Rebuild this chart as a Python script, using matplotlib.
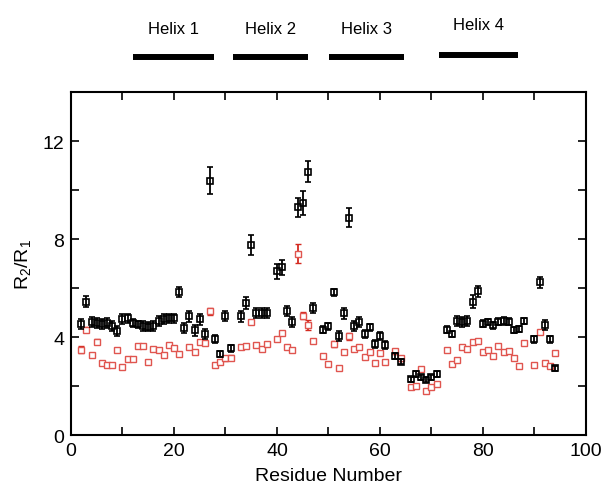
"""
R2/R1 por residuo, con posiciones de las hélices arriba
"""
import numpy as np
import matplotlib
matplotlib.use("Agg")
import matplotlib.pyplot as plt

plt.rcParams['font.family'] = ['Liberation Sans', 'DejaVu Sans']
plt.rcParams['mathtext.fontset'] = 'custom'
plt.rcParams['mathtext.rm'] = 'Liberation Sans'

# serie negra
res_black = [2, 3, 4, 5, 6, 7, 8, 9, 10, 11, 12, 13, 14, 15, 16, 17, 18, 19, 20, 21,
             22, 23, 24, 25, 26, 27, 28, 29, 30, 31, 33, 34, 35, 36, 37, 38, 40, 41,
             42, 43, 44, 45, 46, 47, 49, 50, 51, 52, 53, 54, 55, 56, 57, 58, 59, 60,
             61, 63, 64, 66, 67, 68, 69, 70, 71, 73, 74, 75, 76, 77, 78, 79, 80, 81,
             82, 83, 84, 85, 86, 87, 88, 90, 91, 92, 93, 94]
r_black = [4.53, 5.44, 4.60, 4.56, 4.53, 4.57, 4.46, 4.26, 4.73, 4.76, 4.57, 4.52, 4.46,
           4.43, 4.46, 4.67, 4.73, 4.76, 4.76, 5.84, 4.37, 4.84, 4.27, 4.73, 4.12, 10.38,
           3.92, 3.29, 4.86, 3.54, 4.84, 5.40, 7.76, 4.98, 4.98, 4.98, 6.68, 6.85, 5.05,
           4.60, 9.29, 9.47, 10.75, 5.17, 4.30, 4.44, 5.82, 4.03, 4.97, 8.88, 4.46, 4.63,
           4.12, 4.39, 3.71, 4.04, 3.67, 3.22, 3.00, 2.28, 2.49, 2.35, 2.26, 2.35, 2.49,
           4.30, 4.12, 4.67, 4.63, 4.67, 5.44, 5.86, 4.54, 4.60, 4.48, 4.63, 4.66, 4.63,
           4.29, 4.33, 4.67, 3.90, 6.23, 4.48, 3.90, 2.72]
err_black = [0.22, 0.22, 0.2, 0.2, 0.2, 0.2, 0.2, 0.2, 0.2, 0.2, 0.15, 0.15, 0.2, 0.2, 0.2,
             0.2, 0.2, 0.2, 0.2, 0.2, 0.22, 0.22, 0.22, 0.22, 0.22, 0.55, 0.15, 0.12, 0.22,
             0.15, 0.22, 0.25, 0.4, 0.2, 0.2, 0.2, 0.32, 0.3, 0.2, 0.2, 0.37, 0.5, 0.44,
             0.2, 0.15, 0.15, 0.15, 0.2, 0.22, 0.38, 0.2, 0.2, 0.15, 0.15, 0.15, 0.15, 0.15,
             0.12, 0.12, 0.1, 0.12, 0.1, 0.1, 0.1, 0.12, 0.15, 0.12, 0.2, 0.2, 0.2, 0.27,
             0.24, 0.15, 0.12, 0.15, 0.15, 0.15, 0.15, 0.12, 0.12, 0.12, 0.15, 0.22, 0.2,
             0.15, 0.1]

# serie roja
res_red = [2, 3, 4, 5, 6, 7, 8, 9, 10, 11, 12, 13, 14, 15, 16, 17, 18, 19, 20, 21,
           23, 24, 25, 26, 27, 28, 29, 30, 31, 33, 34, 35, 36, 37, 38, 40, 41, 42, 43,
           44, 45, 46, 47, 49, 50, 51, 52, 53, 54, 55, 56, 57, 58, 59, 60, 61, 63, 64,
           66, 67, 68, 69, 70, 71, 73, 74, 75, 76, 77, 78, 79, 80, 81, 82, 83, 84, 85,
           86, 87, 88, 90, 91, 92, 93, 94]
r_red = [3.48, 4.30, 3.28, 3.81, 2.94, 2.87, 2.86, 3.47, 2.79, 3.10, 3.10, 3.62, 3.62,
         2.99, 3.51, 3.48, 3.28, 3.67, 3.55, 3.32, 3.60, 3.40, 3.78, 3.74, 5.05, 2.84,
         2.98, 3.14, 3.16, 3.58, 3.65, 4.62, 3.69, 3.51, 3.70, 3.91, 4.15, 3.58, 3.49,
         7.41, 4.87, 4.48, 3.85, 3.24, 2.90, 3.70, 2.72, 3.40, 4.03, 3.51, 3.58, 3.20,
         3.38, 2.92, 3.35, 2.99, 3.42, 3.14, 1.97, 2.01, 2.69, 1.81, 1.95, 2.08, 3.48,
         2.90, 3.07, 3.58, 3.51, 3.81, 3.85, 3.40, 3.48, 3.21, 3.62, 3.38, 3.42, 3.13,
         2.80, 3.76, 2.87, 4.21, 2.96, 2.80, 3.36]
err_red = [0.15, 0.1, 0, 0.1, 0, 0, 0, 0, 0, 0, 0, 0, 0, 0, 0, 0, 0, 0, 0, 0,
           0, 0, 0, 0, 0.15, 0, 0.1, 0.1, 0.1, 0, 0, 0, 0, 0, 0, 0, 0, 0, 0,
           0.38, 0.15, 0.2, 0, 0, 0, 0.12, 0, 0, 0.15, 0, 0, 0, 0, 0, 0, 0, 0.1, 0.1,
           0, 0, 0, 0, 0, 0, 0, 0, 0, 0, 0, 0, 0, 0, 0, 0, 0, 0, 0,
           0, 0, 0, 0, 0, 0, 0, 0]

# hélices (inicio, fin) en número de residuo
helix_names = ["Helix 1", "Helix 2", "Helix 3", "Helix 4"]
helix_start = [12.0, 31.5, 50.1, 71.5]
helix_end = [27.8, 46.0, 64.6, 86.8]

fig = plt.figure(figsize=(6.03, 4.85), dpi=100)
ax = fig.add_axes([0.1177, 0.101, 0.854, 0.707])

ax.errorbar(res_red, r_red, yerr=err_red, fmt='s', mfc='white', mec='#e0554f',
            ecolor='#d42a20', ms=4.8, mew=1.0, elinewidth=1.3, capsize=2, capthick=1.3,
            zorder=2)
ax.errorbar(res_black, r_black, yerr=err_black, fmt='s', mfc='none', mec='black',
            ecolor='black', ms=4.8, mew=1.2, elinewidth=1.3, capsize=2, capthick=1.3,
            zorder=3)

ax.set_xlim(0, 100)
ax.set_ylim(0, 14)
ax.set_xticks([0, 20, 40, 60, 80, 100])
ax.set_xticks(np.arange(0, 101, 10), minor=True)
ax.set_yticks([0, 4, 8, 12])
ax.set_yticks(np.arange(0, 15, 2), minor=True)
ax.tick_params(which='both', direction='in', top=True, right=True, width=1.2)
ax.tick_params(which='major', length=6, labelsize=14, pad=5)
ax.tick_params(which='minor', length=6)
for s in ax.spines.values():
    s.set_linewidth(1.5)

ax.set_xlabel("Residue Number", fontsize=14, labelpad=6)
ax.set_ylabel(r"R$_2$/R$_1$", fontsize=14, labelpad=6)

# barras de las hélices
for i in range(len(helix_names)):
    yb = 15.45 if i < 3 else 15.5
    yt = 16.6 if i < 3 else 16.75
    ax.plot([helix_start[i], helix_end[i]], [yb, yb], color='black', lw=4.3,
            solid_capstyle='butt', clip_on=False)
    ax.text((helix_start[i] + helix_end[i]) / 2, yt, helix_names[i], ha='center',
            va='center', fontsize=12)

fig.savefig("out.png", dpi=100)
